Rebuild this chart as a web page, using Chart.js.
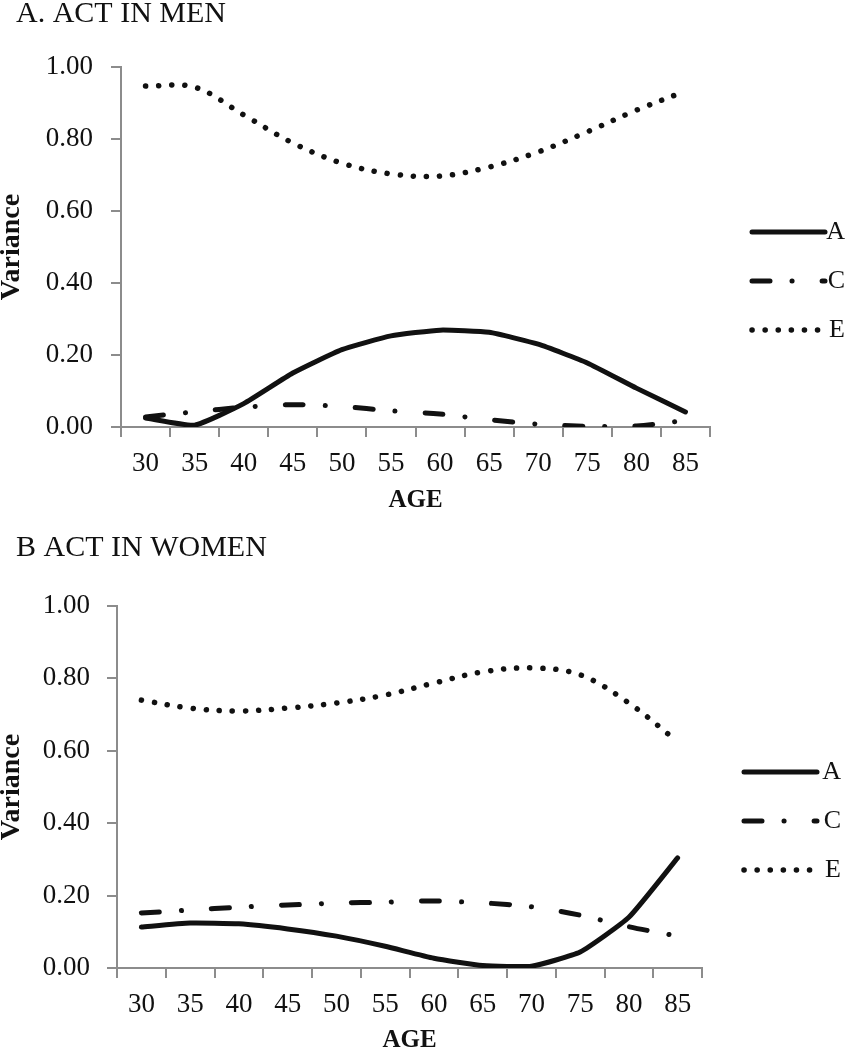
<!DOCTYPE html>
<html>
<head>
<meta charset="utf-8">
<script src="https://cdn.jsdelivr.net/npm/chart.js@4.4.1/dist/chart.umd.min.js"></script>
<style>
  html, body { margin: 0; padding: 0; background: #fff; width: 848px; height: 1050px; overflow: hidden; }
  canvas { position: absolute; left: 0; }
  #men { top: -3px; }
  #women { top: 531px; }
</style>
</head>
<body>
<canvas id="men" width="900" height="520"></canvas>
<canvas id="women" width="900" height="519"></canvas>
<script>
// ages on the x axis
const ages = ['30', '35', '40', '45', '50', '55', '60', '65', '70', '75', '80', '85'];
const seriesNames = ['A', 'C', 'E'];

// A. ACT in men
const menA = [0.025, 0.005, 0.065, 0.15, 0.215, 0.253, 0.269, 0.263, 0.23, 0.178, 0.108, 0.042];
const menC = [0.028, 0.042, 0.055, 0.062, 0.057, 0.045, 0.036, 0.02, 0.008, 0.002, 0.003, 0.018];
const menE = [0.947, 0.944, 0.867, 0.789, 0.733, 0.703, 0.697, 0.722, 0.764, 0.82, 0.88, 0.933];

// B ACT in women
const womenA = [0.113, 0.124, 0.122, 0.108, 0.088, 0.06, 0.027, 0.007, 0.005, 0.044, 0.14, 0.304];
const womenC = [0.152, 0.16, 0.168, 0.174, 0.179, 0.182, 0.185, 0.18, 0.169, 0.146, 0.114, 0.088];
const womenE = [0.74, 0.718, 0.71, 0.718, 0.732, 0.754, 0.787, 0.818, 0.829, 0.81, 0.732, 0.625];

Chart.defaults.font.family = "'Liberation Serif', 'DejaVu Serif', serif";
Chart.defaults.color = '#111';

const ink = '#111';
const axisGrey = '#8c8c8c';

const lineStyles = [
    { borderWidth: 5, borderDash: [], tension: 0.15 },               // A solid
    { borderWidth: 5, borderDash: [18, 22, 0.1, 30], tension: 0.3 }, // C dash-dot
    { borderWidth: 5.5, borderDash: [0.1, 13], tension: 0.35 },      // E dotted
];

const baseLabels = Chart.defaults.plugins.legend.labels.generateLabels;

function makeChart(id, title, values, geo) {
    const ctx = document.getElementById(id).getContext('2d');
    const canvasH = ctx.canvas.height;

    const datasets = values.map((v, i) => ({
        label: seriesNames[i],
        data: v,
        borderColor: ink,
        backgroundColor: ink,
        borderWidth: lineStyles[i].borderWidth,
        borderDash: lineStyles[i].borderDash,
        borderCapStyle: 'round',
        borderJoinStyle: 'round',
        tension: lineStyles[i].tension,
        pointRadius: 0,
        fill: false,
    }));

    return new Chart(ctx, {
        type: 'line',
        data: { labels: ages, datasets: datasets },
        options: {
            responsive: false,
            animation: false,
            devicePixelRatio: 1,
            layout: { padding: { left: 16, right: geo.padRight, top: 0, bottom: 0 } },
            plugins: {
                title: {
                    display: true,
                    text: title,
                    align: 'start',
                    color: ink,
                    font: { size: 30, weight: 'normal', lineHeight: 1 },
                    padding: { top: 2, bottom: geo.titleGap - 2 },
                },
                legend: {
                    position: 'right',
                    align: 'start',
                    fullSize: false,
                    maxWidth: geo.legendWidth,
                    title: {
                        display: true,
                        text: '',
                        font: { size: 1, lineHeight: 1 },
                        padding: { top: geo.legendDrop, bottom: 0 },
                    },
                    labels: {
                        usePointStyle: true,
                        pointStyle: 'line',
                        pointStyleWidth: 73,
                        textAlign: 'right',
                        color: ink,
                        font: { size: 26 },
                        padding: 23,
                        generateLabels: (chart) => baseLabels(chart).map((item, i) => ({
                            ...item,
                            lineDash: chart.data.datasets[i].borderDash,
                            lineCap: 'round',
                        })),
                    },
                },
                tooltip: { enabled: false },
            },
            scales: {
                x: {
                    offset: true,
                    grid: {
                        offset: true,
                        drawOnChartArea: false,
                        color: axisGrey,
                        lineWidth: 2,
                        tickLength: 10,
                    },
                    border: { color: axisGrey, width: 2 },
                    ticks: { font: { size: 27 }, color: ink, padding: 11, maxRotation: 0, autoSkip: false },
                    title: {
                        display: true,
                        text: 'AGE',
                        color: ink,
                        font: { size: 25, weight: 'bold', lineHeight: 1.2 },
                        padding: { top: 0, bottom: geo.ageGap },
                    },
                    afterFit: (s) => { s.height = canvasH - geo.plotBottom; },
                },
                y: {
                    min: 0,
                    max: 1,
                    ticks: {
                        stepSize: 0.2,
                        font: { size: 27 },
                        color: ink,
                        padding: geo.yTickPad,
                        callback: (v) => v.toFixed(2),
                    },
                    grid: {
                        drawOnChartArea: false,
                        color: axisGrey,
                        lineWidth: 2,
                        tickLength: 10,
                    },
                    border: { color: axisGrey, width: 2 },
                    title: {
                        display: true,
                        text: 'Variance',
                        color: ink,
                        font: { size: 28, weight: 'bold', lineHeight: 1 },
                        padding: { top: -18, bottom: 0 },
                    },
                    afterFit: (s) => { s.width = geo.plotLeft - 16; },
                },
                // empty strip between the plot and the legend
                gap: {
                    type: 'linear',
                    position: 'right',
                    grid: { display: false, drawTicks: false },
                    border: { display: false },
                    ticks: { display: false },
                    afterFit: (s) => { s.width = 19; },
                },
            },
        },
    });
}

makeChart('men', 'A. ACT IN MEN', [menA, menC, menE], {
    plotLeft: 121, plotBottom: 430, titleGap: 40, ageGap: 1,
    yTickPad: 18, legendDrop: 128, padRight: 55, legendWidth: 116,
});

makeChart('women', 'B ACT IN WOMEN', [womenA, womenC, womenE], {
    plotLeft: 117, plotBottom: 437, titleGap: 45, ageGap: -6,
    yTickPad: 17, legendDrop: 129, padRight: 59, legendWidth: 120,
});
</script>
</body>
</html>
